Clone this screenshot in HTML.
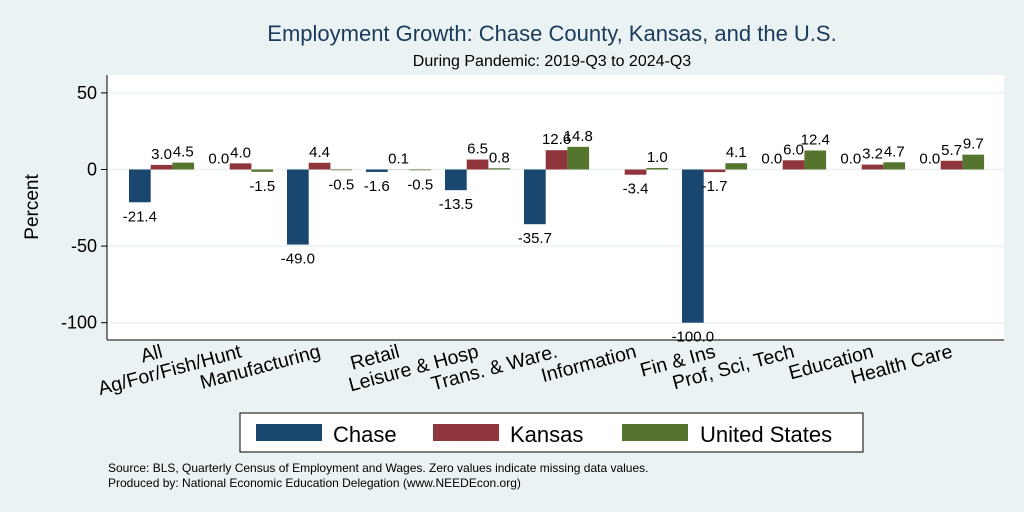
<!DOCTYPE html>
<html><head><meta charset="utf-8"><style>
html,body{margin:0;padding:0;background:#eaf2f3;}
svg{display:block;font-family:"Liberation Sans",Arial,sans-serif;}
</style></head><body>
<svg id="chart" width="1024" height="512" viewBox="0 0 1024 512">
<rect x="0" y="0" width="1024" height="512" fill="#eaf2f3"/>
<text x="552" y="41" text-anchor="middle" font-size="22" fill="#1a3a5c">Employment Growth: Chase County, Kansas, and the U.S.</text>
<text x="552" y="66" text-anchor="middle" font-size="16" fill="#000">During Pandemic: 2019-Q3 to 2024-Q3</text>
<rect x="107" y="75" width="897" height="265" fill="#fff"/>
<g id="grid"></g>
<g id="bars"></g>
<g id="vals"></g>
<line x1="107" y1="75" x2="107" y2="340" stroke="#000" stroke-width="1"/>
<line x1="107" y1="340" x2="1004" y2="340" stroke="#000" stroke-width="1"/>
<g id="yticks"></g>
<g id="xlabels"></g>
<text transform="translate(38,207) rotate(-90)" text-anchor="middle" font-size="19">Percent</text>
<g>
<rect x="240" y="413" width="623" height="39" fill="#fff" stroke="#000" stroke-width="1"/>
<rect x="256" y="424" width="66" height="17" fill="#1a476f"/>
<text x="333" y="442" font-size="22">Chase</text>
<rect x="433" y="424" width="66" height="17" fill="#90353b"/>
<text x="510" y="442" font-size="22">Kansas</text>
<rect x="622" y="424" width="66" height="17" fill="#55752f"/>
<text x="700" y="442" font-size="22">United States</text>
</g>
<text x="108" y="472" font-size="12">Source: BLS, Quarterly Census of Employment and Wages. Zero values indicate missing data values.</text>
<text x="108" y="487" font-size="12">Produced by: National Economic Education Delegation (www.NEEDEcon.org)</text>
</svg>
<script>
const categories = ["All","Ag/For/Fish/Hunt","Manufacturing","Retail","Leisure & Hosp","Trans. & Ware.","Information","Fin & Ins","Prof, Sci, Tech","Education","Health Care"];
const chaseValues = [-21.4,0.0,-49.0,-1.6,-13.5,-35.7,null,-100.0,0.0,0.0,0.0];
const kansasValues = [3.0,4.0,4.4,0.1,6.5,12.6,-3.4,-1.7,6.0,3.2,5.7];
const usValues = [4.5,-1.5,-0.5,-0.5,0.8,14.8,1.0,4.1,12.4,4.7,9.7];
const yTicks = [50,0,-50,-100];
const seriesNames = ["chase","kansas","us"];
const seriesColors = ["#1a476f","#90353b","#55752f"];

const NS="http://www.w3.org/2000/svg";
function yScale(v){return 169.5 - v*1.532;}
const groupStart=129, groupStep=79, barW=21.7;
function xBar(i,s){return groupStart + i*groupStep + s*barW;}
function mk(tag,attrs,parent){const e=document.createElementNS(NS,tag);for(const k in attrs)e.setAttribute(k,attrs[k]);parent.appendChild(e);return e;}

const grid=document.getElementById('grid'), yt=document.getElementById('yticks');
yTicks.forEach(t=>{
  const y=yScale(t);
  const gl=mk('line',{x1:107,x2:1004,y1:y,y2:y,stroke:'#eaf2f3','stroke-width':1.5},grid);
  
  
  const tk=mk('line',{x1:101,x2:107,y1:y,y2:y,stroke:'#000'},yt);
  
  
  const tx=mk('text',{x:97,y:y+6,'text-anchor':'end','font-size':18},yt);
  tx.textContent=String(t);
  
  
});

const bars=document.getElementById('bars'), vals=document.getElementById('vals');
[chaseValues,kansasValues,usValues].forEach((arr,s)=>{
  arr.forEach((v,i)=>{
    if(v===null) return;
    const x=xBar(i,s), y0=yScale(0), y1=yScale(v);
    const r=mk('rect',{x:x,y:Math.min(y0,y1),width:barW,height:Math.max(Math.abs(y1-y0),0.01),fill:seriesColors[s]},bars);
    
    
    const ty = v>=0 ? y1-6 : y1+19;
    const t=mk('text',{x:x+barW/2,y:ty,'text-anchor':'middle','font-size':15},vals);
    t.textContent=v.toFixed(1);
    
    
  });
});

const xl=document.getElementById('xlabels');
categories.forEach((c,i)=>{
  const cx=groupStart+i*groupStep+1.5*barW+2;
  const t=mk('text',{transform:'translate('+cx+',357) rotate(-15)','text-anchor':'end','font-size':19.5},xl);
  t.textContent=c;
  
  
});
</script>
</body></html>
